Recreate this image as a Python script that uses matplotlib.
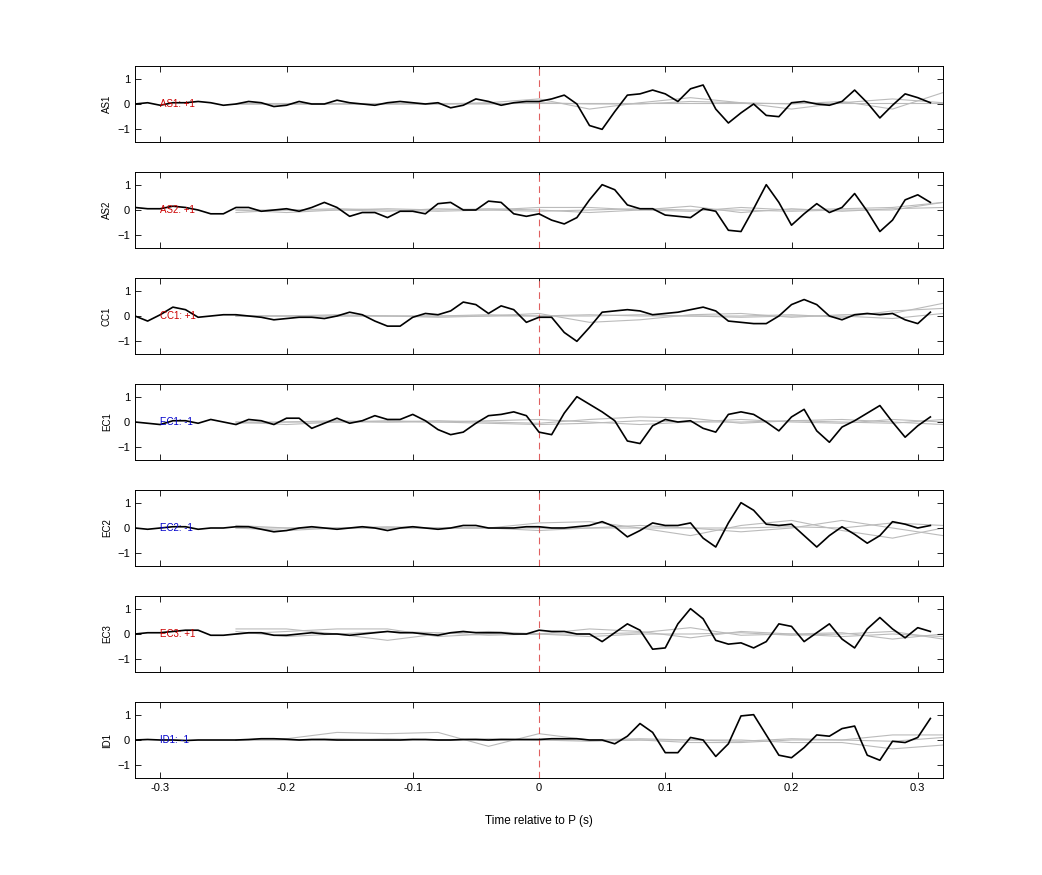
import numpy as np
import matplotlib
matplotlib.use("Agg")
import matplotlib.pyplot as plt

plt.rcParams['font.family'] = ['Liberation Sans', 'DejaVu Sans']

t = np.round(np.arange(-0.32, 0.315, 0.01), 2)
tg = np.round(np.arange(-0.24, 0.325, 0.04), 2)

stations = ["AS1", "AS2", "CC1", "EC1", "EC2", "EC3", "ID1"]
polarity = [+1, +1, +1, -1, -1, +1, -1]

AS1 = [0,0.05,-0.05,0.05,0.05,0.1,0.05,-0.05,0,0.1,0.05,-0.1,-0.05,0.1,0,0,0.15,0.05,0,-0.05,0.05,0.1,0.05,0,0.05,-0.15,-0.05,0.2,0.1,-0.05,0.05,0.1,
       0.1,0.2,0.35,0,-0.85,-1.0,-0.3,0.35,0.4,0.55,0.4,0.1,0.6,0.75,-0.2,-0.75,-0.35,0,-0.45,-0.5,0.05,0.1,0,-0.05,0.1,0.55,0.05,-0.55,-0.05,0.4,0.25,0.05]
AS2 = [0.1,0.05,0.05,0.15,0.1,0,-0.15,-0.15,0.1,0.1,-0.05,0,0.05,-0.05,0.1,0.3,0.1,-0.25,-0.1,-0.1,-0.3,-0.05,-0.05,-0.15,0.25,0.3,0,0,0.35,0.3,-0.15,-0.25,
       -0.15,-0.4,-0.55,-0.3,0.4,1.0,0.8,0.2,0.05,0.05,-0.2,-0.25,-0.3,0.05,-0.05,-0.8,-0.85,0.05,1.0,0.3,-0.6,-0.15,0.25,-0.1,0.1,0.65,-0.05,-0.85,-0.4,0.4,0.6,0.3]
CC1 = [0,-0.2,0.05,0.35,0.25,-0.05,0,0.05,0.05,0,-0.05,-0.15,-0.1,-0.05,-0.05,-0.1,0,0.15,0.05,-0.2,-0.4,-0.4,-0.05,0.1,0.05,0.2,0.55,0.45,0.1,0.4,0.25,-0.25,
       -0.05,-0.05,-0.65,-1.0,-0.45,0.15,0.2,0.25,0.2,0.05,0.1,0.15,0.25,0.35,0.2,-0.2,-0.25,-0.3,-0.3,0,0.45,0.65,0.45,0,-0.15,0.05,0.1,0.05,0.1,-0.15,-0.3,0.15]
EC1 = [0,-0.05,-0.1,0.05,0.05,-0.05,0.1,0,-0.1,0.1,0.05,-0.1,0.15,0.15,-0.25,-0.05,0.15,-0.05,0.05,0.25,0.1,0.1,0.3,0.05,-0.3,-0.5,-0.4,-0.05,0.25,0.3,0.4,0.25,
       -0.4,-0.5,0.35,1.0,0.7,0.4,0.05,-0.75,-0.85,-0.15,0.1,0,0.05,-0.25,-0.4,0.3,0.4,0.3,0,-0.35,0.2,0.5,-0.35,-0.8,-0.2,0.05,0.35,0.65,0,-0.6,-0.15,0.2]
EC2 = [0,-0.05,0,0.05,0.05,-0.05,0,0,0.05,0.05,-0.05,-0.15,-0.1,0,0.05,0,-0.05,0,0.05,0,-0.1,0,0.05,0,-0.05,0,0.1,0.1,0,0,0,0.05,
       0.05,0,0,0.05,0.1,0.25,0.05,-0.35,-0.1,0.2,0.1,0.1,0.2,-0.4,-0.75,0.2,1.0,0.7,0.15,0.1,0.15,-0.3,-0.75,-0.3,0.05,-0.25,-0.6,-0.3,0.25,0.15,0,0.1]
EC3 = [0,0.05,0.05,0.1,0.15,0.15,-0.05,-0.05,0,0.05,0.05,-0.05,-0.05,0,0.05,0,0,-0.05,0,0.05,0.1,0.05,0.05,0,-0.05,0.05,0.1,0.05,0.05,0.05,0,0,
       0.15,0.1,0.1,0,0,-0.3,0.05,0.4,0.15,-0.6,-0.55,0.4,1.0,0.6,-0.25,-0.4,-0.35,-0.55,-0.3,0.4,0.3,-0.3,0.05,0.4,-0.2,-0.55,0.2,0.65,0.2,-0.15,0.25,0.1]
ID1 = [0,0.02,0,0,-0.02,0,0,0,0,0.02,0.05,0.05,0.03,0,0.02,0.02,0,0,0,0,0,0,0.02,0.02,0,0,0.02,0.02,0,0.02,0.02,0.02,
       0.02,0.05,0.05,0.05,0,0,-0.15,0.15,0.65,0.3,-0.5,-0.5,0.1,0,-0.65,-0.15,0.95,1.0,0.2,-0.6,-0.7,-0.3,0.2,0.15,0.45,0.55,-0.6,-0.8,-0.05,-0.1,0.1,0.85]
black = [AS1, AS2, CC1, EC1, EC2, EC3, ID1]

# gray reference traces, sampled at tg (-0.24 .. 0.32 step 0.04)
gray = [
    [[0,0,0,0,0,0.05,0.2,-0.2,0.05,0.25,0.05,-0.2,0.05,0.2,0.05],
     [0,0,0,0,0,0,0.05,0,0,0.1,0.05,0,0.1,-0.2,0.45],
     [0.05,0.05,0.05,0.05,0.05,0.05,0.05,0.05,0.05,0.05,0.05,0.05,0.05,0.05,0.05]],
    [[0,0,0.05,0,-0.05,0,0.1,0.1,0,-0.05,0.1,0,0.05,0.1,0.3],
     [0,-0.1,0,0.05,0,0.05,0,-0.1,0,0.15,-0.1,0.05,-0.05,0.05,0.1],
     [-0.1,0,0,-0.05,0.05,0,-0.05,0,0.05,0,0,-0.05,0,0,0.3]],
    [[0,0,0,0,0,0,0.1,-0.25,-0.15,0.05,0.1,-0.05,0.05,0.1,0.5],
     [0,0,0.05,0,0,0.05,0,0,0.05,0,0,0.05,-0.05,0.2,0.3],
     [0,0,0,0,-0.05,0,0,0.05,0,0,-0.05,0,0,-0.1,0.1]],
    [[0,-0.1,0,0,0.05,0,-0.05,0.1,0.2,0.15,-0.05,0.05,0.1,0,-0.1],
     [0,0,0,0.05,0,0.05,0.1,0,-0.1,0,0.1,0,-0.05,0.1,0],
     [-0.05,0,0.05,0,0,-0.05,-0.1,-0.05,0.05,0,0,0.05,0,-0.05,0.1]],
    [[0.1,0,0,0,0,0,0.2,0.25,0,-0.3,0.1,0.3,-0.1,-0.4,0],
     [0,-0.1,0,0.05,0,0,-0.1,0,0.1,0,-0.15,0,0.3,0,-0.3],
     [0,0,0,0,0,0,0,0,0,0,0,0.05,0,0.2,0.1]],
    [[0.2,0.2,0,-0.25,0,0.1,0,0.2,0.1,-0.15,0.1,0,-0.1,0,-0.1],
     [0,0.1,0.2,0.2,-0.1,0,0,0,0.05,0.25,-0.05,0,0.05,-0.2,0],
     [0.1,-0.1,0,0.1,0.05,-0.05,0,-0.1,0,0,0.05,-0.05,0,0.1,-0.2]],
    [[0,0.05,0.3,0.25,0.3,-0.25,0.25,0,0,0,-0.05,0.05,0,-0.05,0.1],
     [0,0,0,0.05,0,0.05,0,-0.05,0,-0.1,-0.1,0,0,0.2,0.2],
     [0,0,0.05,0,0,0,0,0,0.05,0,0,-0.1,-0.1,-0.35,-0.2]],
]

fig = plt.figure(figsize=(10.42, 8.75), dpi=100)
W, H = 1042, 875
for i, st in enumerate(stations):
    top = 66 + 106 * i
    ax = fig.add_axes([135 / W, 1 - (top + 76) / H, 808 / W, 76 / H])
    for g in gray[i]:
        ax.plot(tg, g, color='#bbbbbb', lw=0.8, zorder=1)
    ax.axvline(0, color='#e06060', lw=0.8, ls=(0, (6, 4)), zorder=2)
    ax.plot(t, black[i], color='black', lw=1.2, zorder=3)
    ax.set_xlim(-0.32, 0.32)
    ax.set_ylim(-1.5, 1.5)
    ax.set_yticks([-1, 0, 1])
    ax.set_xticks([-0.3, -0.2, -0.1, 0, 0.1, 0.2, 0.3])
    ax.tick_params(direction='in', top=True, right=True, labelsize=8, length=4, width=0.6)
    for s in ax.spines.values():
        s.set_linewidth(0.7)
    if i < len(stations) - 1:
        ax.set_xticklabels([])
    else:
        ax.set_xticklabels(['-0.3', '-0.2', '-0.1', '0', '0.1', '0.2', '0.3'])
        ax.set_xlabel('Time relative to P (s)', fontsize=8.5, labelpad=16)
    ax.set_ylabel(st, fontsize=7)
    p = polarity[i]
    ax.text(-0.3, 0, f"{st}: {'+1' if p > 0 else '-1'}", color='#cc0000' if p > 0 else '#0000cc',
            fontsize=7, va='center', ha='left', zorder=4)

fig.savefig('out.png', dpi=100)
